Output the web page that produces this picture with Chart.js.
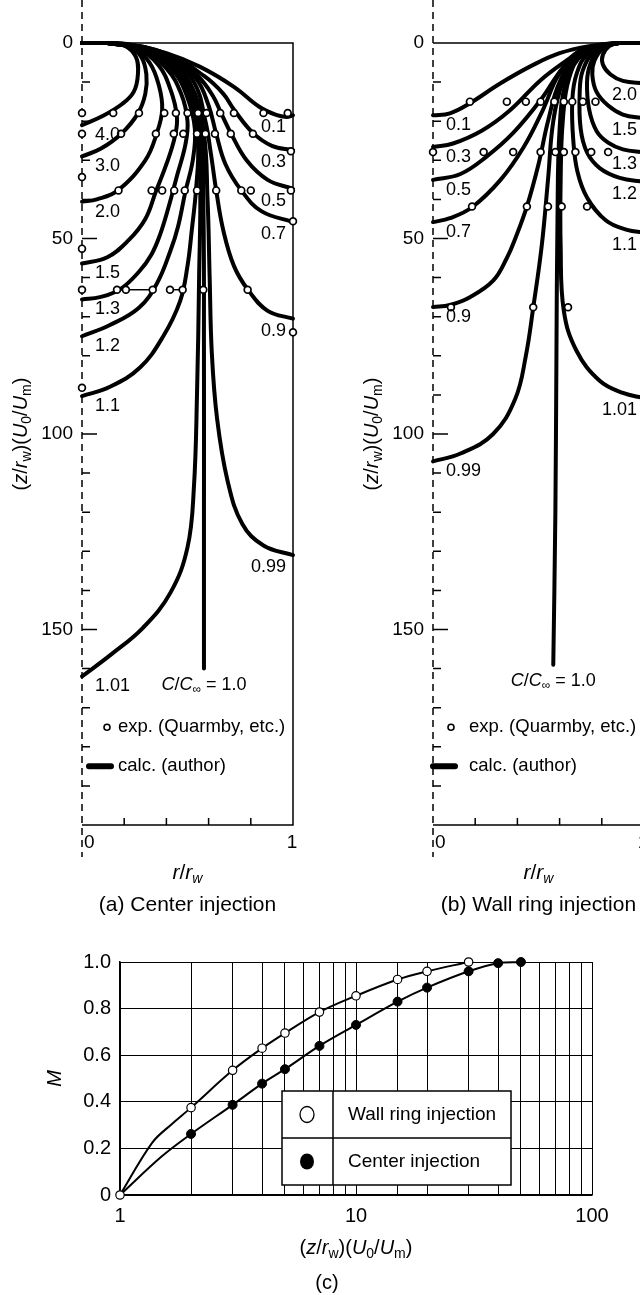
<!DOCTYPE html>
<html>
<head>
<meta charset="utf-8">
<script src="https://cdn.jsdelivr.net/npm/chart.js@4.4.1/dist/chart.umd.min.js"></script>
<style>
  html, body { margin: 0; padding: 0; background: #fff; overflow: hidden; }
  #wrap { position: relative; width: 640px; height: 1295px; overflow: hidden; }
  canvas { position: absolute; }
</style>
</head>
<body>
<div id="wrap">
  <canvas id="ca" width="340" height="930" style="left:0;top:0"></canvas>
  <canvas id="cb" width="340" height="930" style="left:351px;top:0"></canvas>
  <canvas id="cc" width="640" height="365" style="left:0;top:930px"></canvas>
</div>
<script>
// ---------- axes ----------
const zMinorTicks = [10, 20, 30, 40, 50, 60, 70, 80, 90, 100, 110, 120, 130, 140, 150, 160, 170, 180, 190];
const zLabelTicks = [0, 50, 100, 150];
const rTicks = [0.2, 0.4, 0.6, 0.8];

// ---------- (a) center injection : contour C/C∞, points [r/rw, (z/rw)(U0/Um)] ----------
const aLevels = ['4.0', '3.0', '2.0', '1.5', '1.3', '1.2', '1.1', '1.01', '1.0', '0.99', '0.9', '0.7', '0.5', '0.3', '0.1'];
const a40 = [[0,0],[0.12,0],[0.2,0.6],[0.255,3.5],[0.265,8],[0.245,12.5],[0.19,15.6],[0.1,18.6],[0,21]];
const a30 = [[0,0],[0.12,0],[0.22,0.8],[0.28,3.5],[0.305,8],[0.3,13],[0.265,18],[0.19,23],[0.09,27],[0,29]];
const a20 = [[0,0],[0.12,0],[0.24,1.2],[0.32,5],[0.365,11],[0.38,17],[0.355,23],[0.3,30],[0.17,37.7],[0.07,40],[0,40.6]];
const a15 = [[0,0],[0.12,0],[0.26,1.4],[0.36,5.5],[0.42,12],[0.45,19],[0.44,24],[0.4,31],[0.35,38],[0.3,45],[0.22,50.5],[0.12,54.8],[0,56.4]];
const a13 = [[0,0],[0.12,0],[0.28,1.6],[0.4,6.5],[0.47,13],[0.5,20],[0.49,26],[0.45,34],[0.41,42],[0.37,49],[0.33,54],[0.27,58.5],[0.18,63],[0.085,65],[0,65.6]];
const a12 = [[0,0],[0.12,0],[0.3,1.8],[0.43,7],[0.5,14],[0.535,22],[0.525,30],[0.49,38],[0.455,47],[0.42,53],[0.355,61.5],[0.27,67.7],[0.13,72.2],[0,75]];
const a11 = [[0,0],[0.12,0],[0.32,2],[0.45,7.5],[0.52,16],[0.55,26],[0.54,37.7],[0.52,48],[0.5,57],[0.465,66],[0.385,75],[0.275,83],[0.13,88],[0,90.3]];
const a101 = [[0,0],[0.12,0],[0.34,2.2],[0.47,8],[0.54,18],[0.56,35],[0.555,60],[0.545,90],[0.53,114],[0.5,129],[0.42,140.5],[0.29,149.5],[0.14,156.3],[0,162]];
const a100 = [[0,0],[0.12,0],[0.36,2.4],[0.49,8.5],[0.56,20],[0.575,40],[0.578,80],[0.578,120],[0.578,160]];
const a099 = [[0,0],[0.12,0],[0.38,2.6],[0.51,10],[0.575,22],[0.595,40],[0.605,60],[0.615,79],[0.64,96],[0.69,112],[0.76,123],[0.86,128.5],[1,131]];
const a09 = [[0,0],[0.12,0],[0.4,2.8],[0.53,10],[0.585,20],[0.61,28],[0.636,37.7],[0.67,48],[0.72,57],[0.785,63],[0.88,68.5],[1,70.5]];
const a07 = [[0,0],[0.12,0],[0.41,3],[0.54,9],[0.6,16],[0.635,23],[0.68,31],[0.755,37.7],[0.85,43],[1,45.8]];
const a05 = [[0,0],[0.12,0],[0.42,3.2],[0.55,8.5],[0.62,13.5],[0.66,18],[0.705,23],[0.78,30],[0.88,35],[1,37.3]];
const a03 = [[0,0],[0.12,0],[0.42,3.3],[0.58,8.5],[0.67,13],[0.72,17],[0.81,23],[0.9,26.3],[1,27.4]];
const a01 = [[0,0],[0.12,0],[0.22,0.3],[0.4,2.6],[0.56,6.1],[0.72,11.2],[0.84,16.3],[0.92,18.4],[0.97,18.9],[1,18.5]];
const aCurves = [a40, a30, a20, a15, a13, a12, a11, a101, a100, a099, a09, a07, a05, a03, a01];

// experimental (Quarmby etc.), rows of equal z
const aExpZ = [17.9, 23.2, 27.7, 34.3, 37.7, 45.6, 52.6, 63.1, 74, 88.2];
const aExpR = [
  [0, 0.148, 0.27, 0.39, 0.445, 0.5, 0.55, 0.59, 0.655, 0.72, 0.86, 0.975],
  [0, 0.185, 0.35, 0.435, 0.48, 0.545, 0.585, 0.63, 0.705, 0.81],
  [0.99],
  [0],
  [0.173, 0.33, 0.38, 0.437, 0.487, 0.545, 0.636, 0.755, 0.8, 0.99],
  [1],
  [0],
  [0, 0.166, 0.208, 0.335, 0.417, 0.477, 0.575, 0.785],
  [1],
  [0]
];
// short bars joining some exp. points: [r1, r2, z]
const aExpBars = [[0.33, 0.38, 37.7], [0.208, 0.335, 63.1], [0.417, 0.477, 63.1]];

// ---------- (b) wall ring injection ----------
const bLevels = ['2.0', '1.5', '1.3', '1.2', '1.1', '1.01', '1.0', '0.99', '0.9', '0.7', '0.5', '0.3', '0.1'];
const b20 = [[1,0],[0.88,0],[0.835,0.8],[0.805,3],[0.805,5.5],[0.84,8],[0.9,9.7],[1,10.3]];
const b15 = [[1,0],[0.88,0],[0.81,1.2],[0.765,4.5],[0.755,8],[0.775,12.5],[0.83,16],[0.9,18.3],[1,19.3]];
const b13 = [[1,0],[0.88,0],[0.79,1.6],[0.745,5.5],[0.73,10],[0.74,17],[0.775,22.5],[0.83,25.5],[0.9,27.2],[1,28]];
const b12 = [[1,0],[0.88,0],[0.77,2],[0.71,7],[0.695,13],[0.7,22],[0.73,28],[0.79,32],[0.885,34.5],[1,35.5]];
const b11 = [[1,0],[0.88,0],[0.74,2.5],[0.68,8],[0.66,15],[0.665,25],[0.685,33],[0.73,39.5],[0.82,45.4],[0.92,47.8],[1,48.5]];
const b101 = [[1,0],[0.88,0],[0.71,3],[0.645,9],[0.615,20],[0.605,35],[0.605,52],[0.62,68.5],[0.68,78.7],[0.79,86.4],[0.9,89.5],[1,90.8]];
const b100 = [[1,0],[0.88,0],[0.7,3],[0.63,10],[0.6,22],[0.59,45],[0.585,80],[0.58,120],[0.57,159]];
const b099 = [[1,0],[0.88,0],[0.69,2.8],[0.615,10],[0.57,20],[0.545,35],[0.515,52],[0.475,67.7],[0.44,80],[0.39,91],[0.285,100],[0.13,105],[0,107]];
const b09 = [[1,0],[0.88,0],[0.69,2.6],[0.6,10],[0.545,20],[0.5,31],[0.445,41.8],[0.39,50],[0.35,55],[0.285,60.8],[0.175,65],[0.08,67],[0,67.5]];
const b07 = [[1,0],[0.88,0],[0.7,2.2],[0.6,7.7],[0.52,17.2],[0.43,26.6],[0.32,35],[0.185,42],[0.08,44.8],[0,45.8]];
const b05 = [[1,0],[0.88,0],[0.71,1.8],[0.62,6],[0.51,14.6],[0.38,23],[0.255,29],[0.13,33.5],[0,35]];
const b03 = [[1,0],[0.88,0],[0.72,1.4],[0.635,4.4],[0.51,9.5],[0.365,17.2],[0.235,22.3],[0.095,25.7],[0,26.6]];
const b01 = [[1,0],[0.88,0],[0.74,0.8],[0.6,2.6],[0.475,5.6],[0.32,10.3],[0.175,15.4],[0.08,18],[0,18.5]];
const bCurves = [b20, b15, b13, b12, b11, b101, b100, b099, b09, b07, b05, b03, b01];

const bExpZ = [15, 27.9, 41.8, 67.6];
const bExpR = [
  [0.175, 0.35, 0.44, 0.51, 0.575, 0.62, 0.66, 0.71, 0.77],
  [0, 0.24, 0.38, 0.51, 0.58, 0.62, 0.675, 0.75, 0.83],
  [0.185, 0.445, 0.545, 0.61, 0.73],
  [0.085, 0.475, 0.64]
];

// ---------- (c) mixing index M ----------
const cWallX = [1, 2, 3, 4, 5, 7, 10, 15, 20, 30];
const cWallM = [0, 0.375, 0.535, 0.63, 0.695, 0.785, 0.855, 0.925, 0.96, 1.0];
const cCenterX = [1, 2, 3, 4, 5, 7, 10, 15, 20, 30, 40, 50];
const cCenterM = [0, 0.262, 0.387, 0.478, 0.54, 0.64, 0.73, 0.83, 0.89, 0.96, 0.995, 1.0];
// unmarked points read along the drawn curves between x = 1 and 2
const cWallCurveX = [1.37, 1.66];
const cWallCurveM = [0.225, 0.305];
const cCenterCurveX = [1.5];
const cCenterCurveM = [0.165];
const cLogLabels = [1, 10, 100];

const FONT = '"Liberation Sans", Arial, Helvetica, sans-serif';

// draws a run of text pieces; style: i = italic, s = subscript
function rich(ctx, segs, x, y, size, align) {
  let total = 0;
  const parts = segs.map(([t, st = '']) => {
    const sub = st.includes('s');
    const fs = sub ? Math.round(size * 0.68) : size;
    const font = (st.includes('i') ? 'italic ' : '') + fs + 'px ' + FONT;
    ctx.font = font;
    const w = ctx.measureText(t).width;
    total += w;
    return { t, font, w, dy: sub ? size * 0.3 : 0 };
  });
  let cx = align === 'center' ? x - total / 2 : align === 'right' ? x - total : x;
  ctx.textAlign = 'left';
  ctx.textBaseline = 'middle';
  parts.forEach(p => { ctx.font = p.font; ctx.fillText(p.t, cx, y + p.dy); cx += p.w; });
}

const zTitle = [['('], ['z', 'i'], ['/'], ['r', 'i'], ['w', 's'], [')('], ['U', 'i'], ['0', 's'], ['/'], ['U', 'i'], ['m', 's'], [')']];
const cInf = [['C', 'i'], ['/'], ['C', 'i'], ['\u221e', 's'], [' = 1.0']];

const toXY = pts => pts.map(([r, z]) => ({ x: r, y: z }));

function panelDatasets(curves, expZ, expR, bars) {
  const ds = [];
  ds.push({
    data: expZ.flatMap((z, i) => expR[i].map(r => ({ x: r, y: z }))),
    showLine: false, pointRadius: 3.4, pointBorderWidth: 1.7,
    pointBackgroundColor: '#fff', pointBorderColor: '#000', clip: false
  });
  bars.forEach(([r1, r2, z]) => ds.push({
    data: [{ x: r1, y: z }, { x: r2, y: z }],
    showLine: true, borderWidth: 1.5, borderColor: '#000', pointRadius: 0, clip: false
  }));
  curves.forEach(c => ds.push({
    data: toXY(c), showLine: true, tension: 0.4, borderWidth: 4, borderColor: '#000',
    borderCapStyle: 'round', borderJoinStyle: 'round', pointRadius: 0, clip: false
  }));
  return ds;
}

function panelPlugin(curves, levels, caption, legDx) {
  return {
    id: 'panelFrame',
    beforeDatasetsDraw(chart) {
      const ctx = chart.ctx, xs = chart.scales.x, ys = chart.scales.y;
      const x0 = xs.getPixelForValue(0), x1 = xs.getPixelForValue(1);
      const y0 = ys.getPixelForValue(0), y1 = ys.getPixelForValue(200);
      ctx.save();
      ctx.strokeStyle = '#000';
      ctx.lineWidth = 1.5;
      ctx.beginPath();
      ctx.moveTo(x0, y0); ctx.lineTo(x1, y0); ctx.lineTo(x1, y1); ctx.lineTo(x0, y1);
      rTicks.forEach(r => { const px = xs.getPixelForValue(r); ctx.moveTo(px, y1); ctx.lineTo(px, y1 - 7); });
      zMinorTicks.forEach(z => {
        const py = ys.getPixelForValue(z);
        ctx.moveTo(x0, py); ctx.lineTo(x0 + (z % 50 === 0 ? 15 : 8), py);
      });
      ctx.stroke();
      ctx.setLineDash([7, 5]);
      ctx.beginPath(); ctx.moveTo(x0, 0); ctx.lineTo(x0, y1 + 32); ctx.stroke();
      ctx.setLineDash([]);

      ctx.fillStyle = '#000';
      ctx.font = '19px ' + FONT;
      ctx.textAlign = 'right'; ctx.textBaseline = 'middle';
      zLabelTicks.forEach(z => ctx.fillText(String(z), x0 - 9, ys.getPixelForValue(z)));
      ctx.textAlign = 'left';
      ctx.fillText('0', x0 + 2, y1 + 18);
      ctx.textAlign = 'center';
      ctx.fillText('1', x1 - 1, y1 + 18);
      rich(ctx, [['r', 'i'], ['/'], ['r', 'i'], ['w', 'si']], (x0 + x1) / 2, y1 + 48, 21, 'center');
      ctx.font = '21px ' + FONT; ctx.textAlign = 'center';
      ctx.fillText(caption, (x0 + x1) / 2, y1 + 80);
      ctx.save();
      ctx.translate(x0 - 61, (y0 + y1) / 2);
      ctx.rotate(-Math.PI / 2);
      rich(ctx, zTitle, 0, 0, 20, 'center');
      ctx.restore();

      // legend
      const ly1 = ys.getPixelForValue(175), ly2 = ys.getPixelForValue(185);
      ctx.lineWidth = 1.6;
      ctx.beginPath(); ctx.arc(x0 + legDx, ly1, 3, 0, Math.PI * 2); ctx.stroke();
      ctx.lineWidth = 6; ctx.lineCap = 'round';
      ctx.beginPath(); ctx.moveTo(x0 + legDx - 18, ly2); ctx.lineTo(x0 + legDx + 4, ly2); ctx.stroke();
      ctx.font = '18.5px ' + FONT; ctx.textAlign = 'left';
      ctx.fillText('exp. (Quarmby, etc.)', x0 + 36, ly1);
      ctx.fillText('calc. (author)', x0 + 36, ly2);
      ctx.restore();
    },
    afterDatasetsDraw(chart) {
      const ctx = chart.ctx, xs = chart.scales.x, ys = chart.scales.y;
      ctx.save();
      ctx.fillStyle = '#000';
      curves.forEach((c, i) => {
        const [r, z] = c[c.length - 1];
        const px = xs.getPixelForValue(r), py = ys.getPixelForValue(z);
        if (levels[i] === '1.0') {
          rich(ctx, cInf, px, py + 16, 18, 'center');
        } else if (r === 0) {
          rich(ctx, [[levels[i]]], px + 13, py + 10, 18, 'left');
        } else {
          rich(ctx, [[levels[i]]], px - 7, py + 12, 18, 'right');
        }
      });
      ctx.restore();
    }
  };
}

function panelChart(id, curves, levels, expZ, expR, bars, caption, legDx) {
  return new Chart(document.getElementById(id), {
    type: 'scatter',
    data: { datasets: panelDatasets(curves, expZ, expR, bars) },
    options: {
      responsive: false, animation: false, events: [],
      layout: { padding: { left: 82, top: 43, right: 47, bottom: 105 } },
      scales: {
        x: { type: 'linear', min: 0, max: 1, display: false },
        y: { type: 'linear', min: 0, max: 200, reverse: true, display: false }
      },
      plugins: { legend: { display: false }, tooltip: { enabled: false } }
    },
    plugins: [panelPlugin(curves, levels, caption, legDx)]
  });
}

panelChart('ca', aCurves, aLevels, aExpZ, aExpR, aExpBars, '(a) Center injection', 25);
panelChart('cb', bCurves, bLevels, bExpZ, bExpR, [], '(b) Wall ring injection', 18);

// ---------- (c) ----------
function mergeCurve(xs, ms, cx, cm) {
  const pts = xs.map((x, i) => ({ x, y: ms[i], mark: true }))
    .concat(cx.map((x, i) => ({ x, y: cm[i], mark: false })));
  return pts.sort((p, q) => p.x - q.x);
}
const wallPts = mergeCurve(cWallX, cWallM, cWallCurveX, cWallCurveM);
const centerPts = mergeCurve(cCenterX, cCenterM, cCenterCurveX, cCenterCurveM);

const cPlugin = {
  id: 'cDecor',
  afterDraw(chart) {
    const ctx = chart.ctx, a = chart.chartArea;
    ctx.save();
    ctx.fillStyle = '#000';
    rich(ctx, zTitle, (a.left + a.right) / 2, 318, 20, 'center');
    ctx.font = '20px ' + FONT; ctx.textAlign = 'center'; ctx.textBaseline = 'middle';
    ctx.fillText('(c)', 327, 353);
    ctx.save();
    ctx.translate(55, (a.top + a.bottom) / 2);
    ctx.rotate(-Math.PI / 2);
    rich(ctx, [['M', 'i']], 0, 0, 20, 'center');
    ctx.restore();

    // legend box
    const bx = 282, by = 161, bw = 229, bh = 94;
    ctx.fillStyle = '#fff';
    ctx.fillRect(bx, by, bw, bh);
    ctx.strokeStyle = '#000'; ctx.lineWidth = 1.5;
    ctx.strokeRect(bx, by, bw, bh);
    ctx.beginPath();
    ctx.moveTo(bx, by + bh / 2); ctx.lineTo(bx + bw, by + bh / 2);
    ctx.moveTo(bx + 51, by); ctx.lineTo(bx + 51, by + bh);
    ctx.stroke();
    const r1 = by + bh / 4, r2 = by + bh * 3 / 4;
    ctx.beginPath(); ctx.ellipse(bx + 25, r1, 7, 8, 0, 0, Math.PI * 2);
    ctx.fillStyle = '#fff'; ctx.fill(); ctx.lineWidth = 1.3; ctx.stroke();
    ctx.beginPath(); ctx.ellipse(bx + 25, r2, 7, 8, 0, 0, Math.PI * 2);
    ctx.fillStyle = '#000'; ctx.fill();
    ctx.font = '19px ' + FONT; ctx.textAlign = 'left'; ctx.textBaseline = 'middle';
    ctx.fillText('Wall ring injection', bx + 66, r1);
    ctx.fillText('Center injection', bx + 66, r2);
    ctx.restore();
  }
};

new Chart(document.getElementById('cc'), {
  type: 'scatter',
  data: {
    datasets: [
      {
        data: wallPts.map(p => ({ x: p.x, y: p.y })),
        showLine: true, tension: 0.35, borderColor: '#000', borderWidth: 2,
        pointRadius: wallPts.map(p => p.mark ? 4.2 : 0), pointBorderWidth: 1.2,
        pointBackgroundColor: '#fff', pointBorderColor: '#000', clip: false
      },
      {
        data: centerPts.map(p => ({ x: p.x, y: p.y })),
        showLine: true, tension: 0.35, borderColor: '#000', borderWidth: 2,
        pointRadius: centerPts.map((p, i) => p.mark && i > 0 ? 4.5 : 0), pointBorderWidth: 1,
        pointBackgroundColor: '#000', pointBorderColor: '#000', clip: false
      }
    ]
  },
  options: {
    responsive: false, animation: false, events: [],
    layout: { padding: { left: 0, top: 32, right: 48, bottom: 0 } },
    scales: {
      x: {
        type: 'logarithmic', min: 1, max: 100,
        grid: { color: '#000', lineWidth: 1, drawTicks: false },
        border: { color: '#000', width: 1.5 },
        ticks: {
          color: '#000', font: { family: FONT, size: 20 }, padding: 9, autoSkip: false, maxRotation: 0,
          callback: v => cLogLabels.includes(Math.round(v)) && Math.abs(v - Math.round(v)) < 1e-6 ? String(Math.round(v)) : ''
        },
        afterFit: s => { s.height = 100; }
      },
      y: {
        min: 0, max: 1,
        grid: { color: '#000', lineWidth: 1, drawTicks: false },
        border: { color: '#000', width: 1.5 },
        ticks: {
          stepSize: 0.2, color: '#000', font: { family: FONT, size: 20 }, padding: 9,
          callback: v => v === 0 ? '0' : v.toFixed(1)
        },
        afterFit: s => { s.width = 120; }
      }
    },
    plugins: { legend: { display: false }, tooltip: { enabled: false } }
  },
  plugins: [cPlugin]
});
</script>
</body>
</html>
